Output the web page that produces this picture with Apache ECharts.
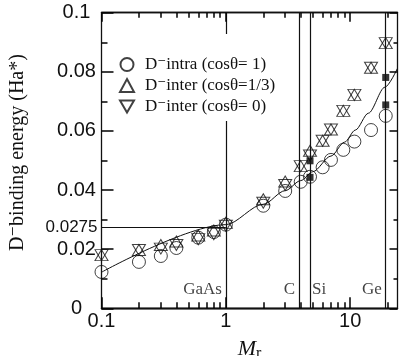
<!DOCTYPE html>
<html>
<head>
<meta charset="utf-8">
<script src="https://cdn.jsdelivr.net/npm/echarts@6/dist/echarts.min.js"></script>
<style>html,body{margin:0;padding:0;background:#fff}#c{width:401px;height:356px}</style>
</head>
<body>
<div id="c"></div>
<script>
// ---- data ----
const mr = [0.1, 0.2, 0.3, 0.4, 0.6, 0.8, 1, 2, 3, 4, 4.75, 6, 7, 8.8, 10.8, 14.7, 19.3];
const intra = [0.0123, 0.0157, 0.0177, 0.0204, 0.0239, 0.0258, 0.0283, 0.0347, 0.0397, 0.0428, 0.0445, 0.0477, 0.0502, 0.0536, 0.0564, 0.0603, 0.0651];
const interThird = [0.0180, 0.0197, 0.0214, 0.0226, 0.0246, 0.0263, 0.0289, 0.0369, 0.0429, 0.0481, 0.0533, 0.0567, 0.0605, 0.0668, 0.0722, 0.0814, 0.0897];
const interZero = [0.0180, 0.0197, 0.0202, 0.0214, 0.0234, 0.0251, 0.0279, 0.0357, 0.0417, 0.0481, 0.0517, 0.0567, 0.0605, 0.0668, 0.0722, 0.0814, 0.0897];
const fitMr = [0.1, 1, 2, 3, 4, 5, 7, 9, 11, 14, 19, 24];
const fitVal = [0.0122, 0.0283, 0.0352, 0.0398, 0.0432, 0.0462, 0.0515, 0.0562, 0.0603, 0.0660, 0.0748, 0.0812];
const expMr = [4.75, 4.75, 19.3, 19.3];
const expVal = [0.0499, 0.0443, 0.0781, 0.0688];
const materials = ['GaAs', 'C', 'Si', 'Ge'];
const materialMr = [1, 3.88, 4.75, 19.3];
const materialSide = ['left', 'left', 'right', 'left'];
const materialLabelY = 0.0064;
const refValue = 0.0275;
const refRange = [0.1, 1];
const seriesNames = ['D\u207Bintra (cos\u03B8= 1)', 'D\u207Binter (cos\u03B8=1/3)', 'D\u207Binter (cos\u03B8= 0)'];
const xMajor = [0.1, 1, 10];
const xMinor = [0.2, 0.3, 0.4, 0.5, 0.6, 0.7, 0.8, 0.9, 2, 3, 4, 5, 6, 7, 8, 9, 20];
const yTicks = [0, 0.02, 0.04, 0.06, 0.08, 0.1];
const yTitle = 'D\u207Bbinding energy (Ha*)';

// ---- chart ----
const pairs = (xs, ys) => xs.map((x, i) => [x, ys[i]]);
const INK = '#111';
const TICK = '#000';
const SANS = 'Liberation Sans, Arial, sans-serif';
const SERIF = 'Liberation Serif, Times New Roman, DejaVu Serif, serif';
const X0 = 0.1, X1 = 24;
const lg = v => Math.log10(v);

// tick-only helper axes on the log10 domain (same span as the log axis)
function tickAx(pos, ticks, len) {
  return {
    type: 'value', min: lg(X0), max: lg(X1), position: pos, z: 10,
    axisLine: { show: true, onZero: false, lineStyle: { color: INK, width: 1.3 } },
    axisTick: { show: true, inside: true, length: len, customValues: ticks.map(lg), lineStyle: { color: TICK, width: 1.5 } },
    axisLabel: { show: false },
    splitLine: { show: false }
  };
}
function yAx(pos, len, mlen, extra) {
  return Object.assign({
    type: 'value', min: 0, max: 0.1, interval: 0.02, position: pos, z: 10,
    axisLine: { show: true, onZero: false, lineStyle: { color: INK, width: 1.3 } },
    axisTick: { show: true, inside: true, length: len, lineStyle: { color: TICK, width: 1.5 } },
    minorTick: { show: true, splitNumber: 2, length: mlen, lineStyle: { color: TICK, width: 1.5 } },
    axisLabel: { show: false },
    splitLine: { show: false }
  }, extra || {});
}

const chart = echarts.init(document.getElementById('c'));
chart.setOption({
  animation: false,
  grid: { left: 101.5, right: 3.5, top: 12.7, bottom: 47.7, containLabel: false, outerBoundsMode: 'none' },
  xAxis: [
    {
      type: 'log', logBase: 10, min: X0, max: X1, position: 'bottom', z: 10,
      axisLine: { show: true, onZero: false, lineStyle: { color: INK, width: 1.3 } },
      axisTick: { show: false },
      splitLine: { show: false },
      axisLabel: { show: true, customValues: xMajor, fontSize: 20, fontFamily: SANS, color: INK, margin: 3,
        formatter: v => String(+(+v).toPrecision(3)) },
      name: '{m|M}{r|r}', nameLocation: 'middle', nameGap: 28,
      nameTextStyle: { rich: {
        m: { fontFamily: SERIF, fontStyle: 'italic', fontSize: 22, color: INK },
        r: { fontFamily: SERIF, fontSize: 16, color: INK, padding: [9, 0, 0, 0] }
      } }
    },
    tickAx('bottom', xMajor, 11),
    tickAx('bottom', xMinor, 6),
    tickAx('top', xMajor, 9),
    tickAx('top', xMinor, 5)
  ],
  yAxis: [
    yAx('left', 12, 6, {
      axisLabel: { show: true, customValues: yTicks, fontSize: 20, fontFamily: SANS, color: INK, margin: 25, align: 'center' },
      name: yTitle, nameLocation: 'middle', nameRotate: 90, nameGap: 74,
      nameTextStyle: { fontFamily: SERIF, fontSize: 20, color: INK, padding: [0, 0, 0, 16] }
    }),
    yAx('right', 8, 4, {})
  ],
  legend: {
    data: seriesNames, orient: 'vertical', left: 114, top: 34, z: 12,
    backgroundColor: '#fff', padding: [22, 6, 6, 5], itemGap: 4,
    itemWidth: 14, itemHeight: 13,
    textStyle: { fontFamily: SERIF, fontSize: 17, color: INK, padding: [0, 0, 0, 6] }
  },
  series: [
    {
      name: 'fit', type: 'line', data: pairs(fitMr, fitVal), showSymbol: false, smooth: 0.3, smoothMonotone: 'x',
      lineStyle: { color: INK, width: 1 }, silent: true, z: 1,
      markLine: {
        silent: true, symbol: ['none', 'none'], animation: false,
        lineStyle: { color: INK, width: 1.2, type: 'solid' },
        label: { show: false },
        data: materialMr.map(v => ({ xAxis: v })).concat([[
          { coord: [refRange[0], refValue], label: { show: true, position: 'start', formatter: String(refValue),
            fontSize: 17, fontFamily: SANS, color: INK, distance: 4 } },
          { coord: [refRange[1], refValue] }
        ]])
      }
    },
    {
      name: seriesNames[0], type: 'scatter', data: pairs(mr, intra), symbol: 'circle', symbolSize: 13,
      itemStyle: { color: 'transparent', borderColor: INK, borderWidth: 1 }, z: 3
    },
    {
      name: seriesNames[1], type: 'scatter', data: pairs(mr, interThird), symbol: 'triangle', symbolSize: [13, 11],
      itemStyle: { color: 'transparent', borderColor: INK, borderWidth: 1 }, z: 3
    },
    {
      name: seriesNames[2], type: 'scatter', data: pairs(mr, interZero), symbol: 'path://M0,0L2,0L1,1.732Z', symbolSize: [13, 11],
      itemStyle: { color: 'transparent', borderColor: INK, borderWidth: 1 }, z: 3
    },
    {
      name: 'exp', type: 'scatter', data: pairs(expMr, expVal), symbol: 'rect', symbolSize: 7,
      itemStyle: { color: '#000' }, z: 4
    },
    {
      name: 'materials', type: 'scatter', symbolSize: 0, silent: true,
      data: materials.map((m, i) => ({
        value: [materialMr[i], materialLabelY],
        label: { show: true, formatter: m, position: materialSide[i], distance: materialSide[i] === 'left' ? 4 : 2,
          fontFamily: SERIF, fontSize: 17, color: INK }
      }))
    }
  ]
});
</script>
</body>
</html>
